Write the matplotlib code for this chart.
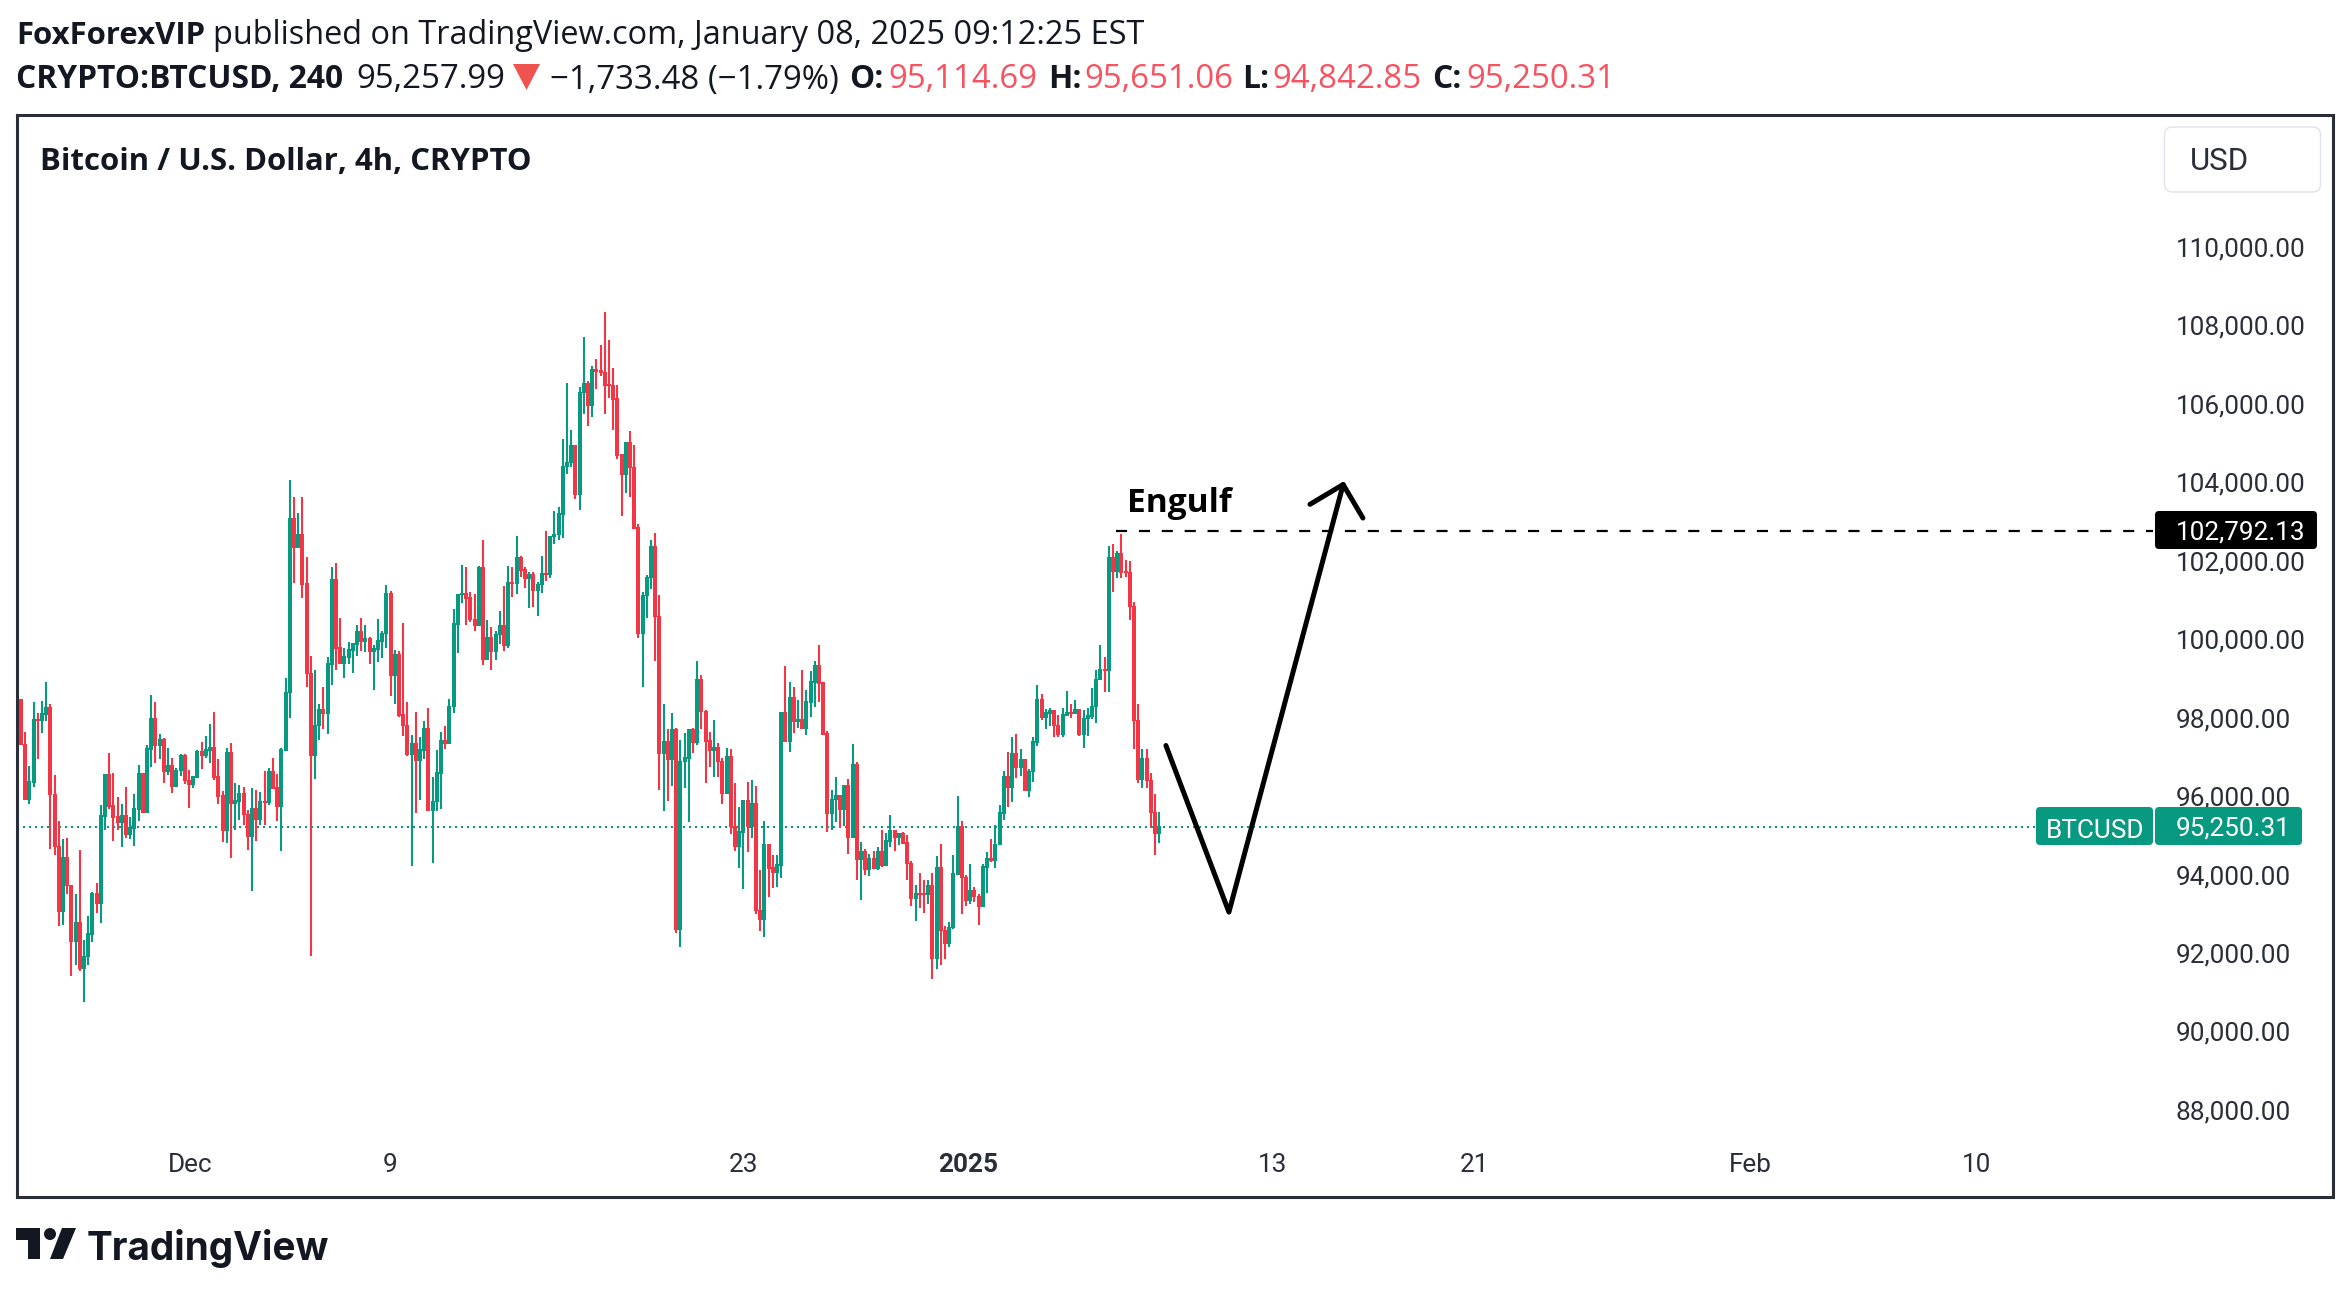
import matplotlib
matplotlib.use("Agg")
import matplotlib.pyplot as plt
from matplotlib.patches import FancyBboxPatch, Polygon, Circle
from matplotlib.transforms import ScaledTranslation

W, H = 2350, 1293
GREEN, RED, INK, BORDER = "#089981", "#F23645", "#131722", "#2A2E39"

first_open = 98486
highs = [98510,97668,96802,98438,98138,98462,98944,98390,96574,95383,94926,94973,93770,93542,94661,92351,92977,93590,93819,95791,
96574,97139,96622,96002,95840,96273,95503,96092,96826,96622,97343,98619,98438,97620,97500,97259,97007,96742,97091,97091,
96706,96550,97211,97416,97572,97873,98161,96982,96164,97259,97391,96369,96321,96273,95683,96248,96188,96140,96682,96742,
97007,96598,97259,99052,104092,103659,103250,103659,102132,99605,99232,98366,98799,99581,101879,101975,100580,99810,99966,99930,
100399,100580,100399,100098,99882,100555,100243,101422,101265,99761,99737,100447,98438,97596,98185,97524,97957,98282,96525,97211,
97668,97825,98510,100808,101193,101927,101879,101241,101169,101903,102565,100531,100351,100243,100760,101398,101903,101879,102649,102156,
101879,101746,101746,101494,102156,102793,102649,103286,103406,105139,106570,105367,104983,106462,107737,106619,107004,107160,107533,108375,
107665,106931,106498,104754,105043,105343,104983,102973,101241,101674,102565,102745,101145,98366,97729,98138,97776,97464,97644,97728,
97776,99485,99124,98234,97668,97981,97391,97007,97259,97235,96369,95756,95912,96393,96429,96297,94156,95407,94793,94516,
94516,98161,99352,98944,98799,98486,99256,98739,99208,99485,99870,98919,97693,96188,96525,96020,96321,96465,97367,96910,
94865,94685,94552,94637,94733,95178,95094,95551,95142,95094,95118,95046,94384,93770,94071,93879,93879,94071,94492,94817,
92724,92832,94540,96044,95395,94023,94288,93722,93542,94288,94613,94949,95298,95791,96682,97163,97548,97620,97235,96958,
96718,97548,98871,98643,98258,98282,98234,98101,98282,98715,98378,98486,98258,98234,98282,98787,99256,99870,99581,102408,
102444,102288,102721,102059,102035,100988,98366,97235,97235,96622,96092,95635]
lows = [97320,95960,95816,96273,96982,97644,97957,94685,94541,92724,92748,93542,91449,91737,91581,90787,91737,92315,93061,92808,
95154,95707,94889,95154,94721,94974,94926,94769,95383,95611,95611,96778,96862,96982,96369,96574,96116,96273,96537,96345,
95731,96248,96490,96718,97007,96862,96429,95816,94865,94841,94456,95154,95431,95298,94661,93614,94889,95298,95298,95791,
96225,95407,94637,97187,98029,101470,102360,101085,98799,91942,96477,97464,97752,97620,98871,99232,99401,99028,99401,99172,
99605,99737,99713,99401,98739,99437,99557,99810,98571,98390,98041,97572,97043,94252,95611,95936,96982,95659,94312,95659,
95707,97235,97367,98138,99665,100940,100399,100459,100243,100375,99377,99509,99232,99509,99918,99737,99810,101109,101169,101626,
101337,100832,100856,100628,101217,101518,101578,102468,102564,102613,104249,104429,103611,103334,105776,105452,105704,106414,106751,105776,
106186,105367,104610,103178,103768,103659,102865,100050,98799,100580,101313,99461,96188,95659,95912,96297,92544,92194,96248,95359,
97139,97343,97752,96369,96778,96525,96525,95840,96092,95070,94637,94204,93650,94613,94950,93012,92603,92447,93446,93698,
93722,93951,97440,97163,97644,97776,97740,97596,98053,98306,98426,97620,95118,95178,95359,95238,95262,94564,94973,93903,
93386,94023,93999,94180,94156,94228,94252,94745,94637,94793,94817,93879,93241,92856,93181,93061,93289,91376,91629,91737,
91882,92194,92652,94023,93037,93217,93289,93338,92748,93217,93566,94360,94204,94781,95431,95756,95888,96501,96549,96188,
95996,96393,97319,97981,97752,97825,97548,97524,97524,98101,98029,98125,97572,97259,97572,98005,97897,98980,98691,98691,
101241,101578,101578,101626,100531,97235,96369,96225,96237,95226,94541,94841]
closes = [97340,95960,96393,97981,97970,98125,98282,96068,94745,93085,94456,93746,92327,92808,91653,91942,92519,93542,93289,95527,
96574,95779,95503,95359,95527,95046,95214,95707,96598,95611,97235,98005,97319,97464,96658,96802,96273,96682,97067,96429,
96345,96513,97163,97067,97211,97259,96513,96032,95166,97139,95852,95900,96080,95563,95010,95707,95431,95888,95876,96658,
96237,95767,97211,98667,103106,102372,102697,101434,99160,97079,97825,98234,98138,99401,101542,99810,99413,99569,99761,99906,
100231,99966,100038,99713,99785,99990,100170,101193,99124,99629,98101,97825,97091,97367,96934,97211,97741,95659,95888,96622,
97440,97380,98318,100423,101169,101193,101085,100531,100375,101855,99509,100074,99713,100146,100375,99870,101470,101458,102107,101795,
101590,101662,101289,101422,101698,101674,102649,102697,103226,104429,104537,104959,103731,106318,106546,106005,106895,106859,106823,106510,
106498,106149,104730,104225,105043,104405,102865,100170,101145,101602,102384,100604,97115,97416,96982,97728,92627,96910,97007,97728,
97416,99004,98185,97440,97187,97259,96910,96092,97031,95250,94745,95118,95912,95274,95840,93109,92904,94793,94204,94083,
94276,98161,97440,98534,97945,97981,97765,98426,98944,99353,98907,97620,95587,95948,96032,95696,96297,94985,96826,94432,
94600,94156,94420,94204,94600,94276,94889,95142,94973,95070,94829,94312,93422,93542,93530,93520,93746,91906,94204,92603,
92291,92676,94047,95250,93951,93373,93626,93470,93217,94228,94420,94400,94793,95599,96525,96248,97115,96754,96958,96188,
96658,97416,98486,98053,98149,98197,97825,97596,98101,98149,98130,98234,97596,98005,98077,98318,99004,99256,99232,102107,
101758,102216,101746,101734,100868,97957,96453,96982,96429,95611,95082,95250]
opens = [first_open] + closes[:-1]

price_ticks = [88000,90000,92000,94000,96000,98000,100000,102000,104000,106000,108000,110000]
date_ticks = [40.3, 88, 172, 225.5, 298, 346, 411.7, 465.5]
date_labels = ["Dec", "9", "23", "2025", "13", "21", "Feb", "10"]
level_price = 102792.13
last_price = 95250.31
path_x = [272.6, 287.6, 314.8]
path_y = [97320, 93073, 103972]
head_x = [306.9, 314.8, 319.5]
head_y = [103467, 103972, 103118]

def fx(px): return px / W
def fy(py): return 1 - py / H

LEFT, RIGHT, TOP, BOTTOM = 17, 2333, 115, 1197
ZERO_Y = 826.7
fig = plt.figure(figsize=(W / 100, H / 100), dpi=100, facecolor="white")
ax = fig.add_axes([fx(LEFT), fy(BOTTOM), fx(RIGHT - LEFT), (BOTTOM - TOP) / H])
ax.set_xlim((LEFT - 21) / 4.2, (RIGHT - 21) / 4.2)
ax.set_ylim(95250 - (BOTTOM - ZERO_Y) * 25.49, 95250 + (ZERO_Y - TOP) * 25.49)
for s in ax.spines.values():
    s.set_color(BORDER); s.set_linewidth(2.2)

idx = list(range(len(closes)))
colors = [GREEN if c > o else RED for o, c in zip(opens, closes)]
ax.hlines(last_price, -1, 480, color=GREEN, lw=1.44, linestyles=(0, (1, 2)), zorder=1)
ax.vlines(idx, lows, highs, color=colors, lw=1.5, zorder=2)
ax.bar(idx, [abs(c - o) + 40 for o, c in zip(opens, closes)],
       bottom=[min(o, c) - 20 for o, c in zip(opens, closes)],
       width=0.96, color=colors, linewidth=0, zorder=3)

ax.hlines(level_price, 260.7, 507.6, color="black", lw=1.6, linestyles=(0, (5, 5.3)), zorder=4)
ax.plot(path_x, path_y, color="black", lw=3.6, solid_capstyle="round", solid_joinstyle="round", zorder=5)
ax.plot(head_x, head_y, color="black", lw=3.6, solid_capstyle="round", solid_joinstyle="round", zorder=5)

ax.yaxis.tick_right()
ax.set_yticks(price_ticks)
ax.set_yticklabels([f"{v:,.2f}" for v in price_ticks], fontfamily="Roboto", fontsize=18.8, color=BORDER, ha="left")
ax.tick_params(axis="y", length=0, pad=-(RIGHT - 2175.5) * 0.72)
up = ScaledTranslation(0, 1.2 / 100, fig.dpi_scale_trans)
for lab in ax.get_yticklabels():
    lab.set_transform(lab.get_transform() + up)
ax.set_xticks(date_ticks)
ax.set_xticklabels(date_labels, fontfamily="Roboto", fontsize=18.8, color=BORDER)
ax.tick_params(axis="x", length=0, pad=-44.5 * 0.72)
for lab in ax.get_xticklabels():
    if lab.get_text() == "2025":
        lab.set_fontweight("bold")

ov = fig.add_axes([0, 0, 1, 1], facecolor="none")
ov.set_xlim(0, W); ov.set_ylim(H, 0); ov.axis("off")

def T(x, y, s, weight="normal", color=INK, size=23.4, family="Open Sans", ha="left"):
    ov.text(x, y, s, fontfamily=family, fontsize=size, fontweight=weight, color=color, ha=ha, va="center_baseline")

def box(x0, y0, x1, y1, fc, ec="none", r=6, lw=0):
    ov.add_patch(FancyBboxPatch((x0 + r, y0 + r), x1 - x0 - 2 * r, y1 - y0 - 2 * r,
                                boxstyle=f"round,pad={r},rounding_size={r}", fc=fc, ec=ec, lw=lw, zorder=6))

RED2 = "#F7525F"
BOLD = 22.4
BOLD2 = 22.9
REG2 = 23.8
T(16, 32, "FoxForexVIP", "bold", size=BOLD)
T(213, 32, "published on TradingView.com, January 08, 2025 09:12:25 EST")
T(16, 76, "CRYPTO:BTCUSD, 240", "bold", size=BOLD2)
T(356, 76, "95,257.99", size=REG2)
ov.add_patch(Polygon([(513, 64), (540, 64), (526.5, 90)], closed=True, fc="#EF5350", ec="none"))
T(550, 76, "−1,733.48 (−1.79%)", size=REG2)
for xa, a, xb, b in [(849, "O:", 888, "95,114.69"), (1048, "H:", 1084, "95,651.06"),
                     (1242, "L:", 1272, "94,842.85"), (1432, "C:", 1466, "95,250.31")]:
    T(xa, 76, a, "bold", size=BOLD2)
    T(xb, 76, b, color=RED2, size=REG2)
T(40, 158, "Bitcoin / U.S. Dollar, 4h, CRYPTO", "bold", size=BOLD)
T(1127.5, 500, "Engulf", "bold", color="black", size=24)

box(2164.5, 127, 2320.5, 192, "white", "#E0E3EB", r=8, lw=1)
ov.text(2220, 159, "USD", fontfamily="Roboto", fontsize=22.5, color=BORDER, ha="center", va="center_baseline", zorder=7)

box(2155, 511, 2317, 549, "black", r=4)
ov.text(2176, 530, "102,792.13", fontfamily="Roboto", fontsize=18.8, color="white", va="center_baseline", zorder=7)
box(2036, 807, 2153, 845, GREEN, r=4)
ov.text(2095, 828, "BTCUSD", fontfamily="Roboto", fontsize=18.8, color="white", ha="center", va="center_baseline", zorder=7)
box(2155, 807, 2302, 845, GREEN, r=4)
ov.text(2176, 826, "95,250.31", fontfamily="Roboto", fontsize=18.8, color="white", va="center_baseline", zorder=7)

ov.add_patch(Polygon([(16, 1228), (40, 1228), (40, 1259), (28, 1259), (28, 1240), (16, 1240)], closed=True, fc=INK, ec="none"))
ov.add_patch(Circle((50, 1234), 6, fc=INK, ec="none"))
ov.add_patch(Polygon([(62, 1228), (76, 1228), (63, 1259), (50, 1259)], closed=True, fc=INK, ec="none"))
ov.text(87, 1244, "TradingView", fontfamily="Inter", fontsize=27.9, fontweight="bold", color=INK, va="center_baseline")

fig.savefig("out.png", dpi=100, facecolor="white")
